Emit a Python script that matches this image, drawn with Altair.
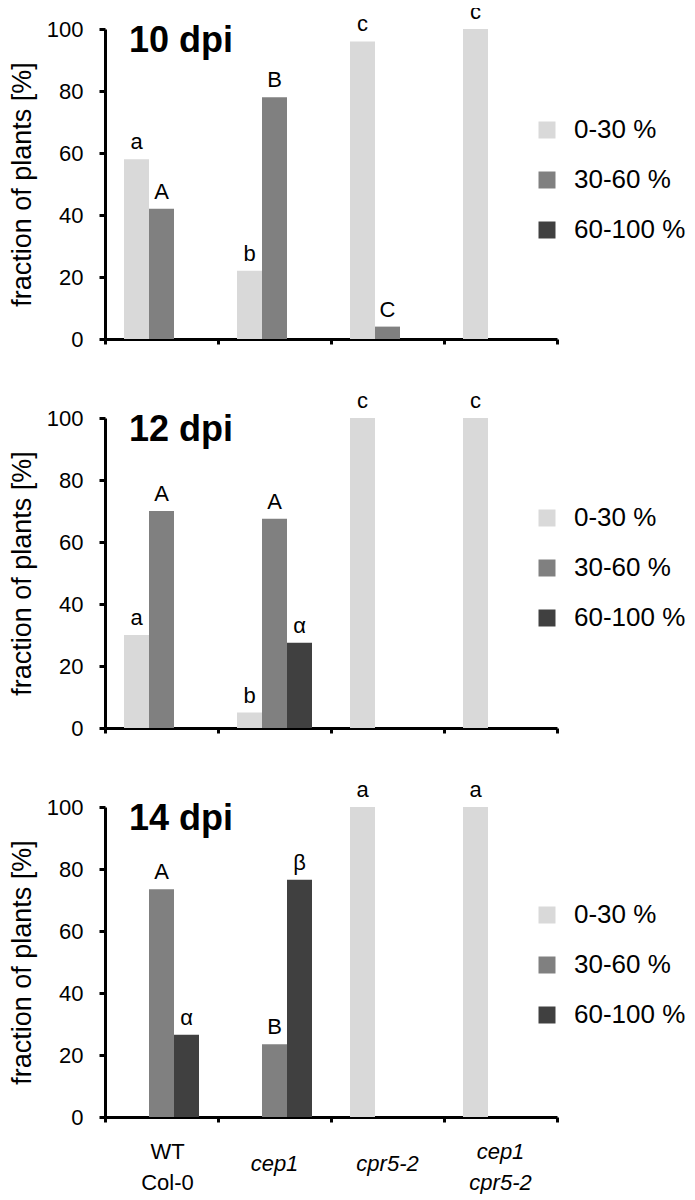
import altair as alt
import pandas as pd

# ---- categories / labels ----
groups = ["WT Col-0", "cep1", "cpr5-2", "cep1 cpr5-2"]
group_labels = ["WT\nCol-0", "cep1", "cpr5-2", "cep1\ncpr5-2"]
group_italic = [False, True, True, True]
group_lines = [2, 1, 1, 2]
series = ["0-30 %", "30-60 %", "60-100 %"]
series_colors = ["#d9d9d9", "#808080", "#404040"]
y_ticks = [0, 20, 40, 60, 80, 100]
panel_names = ["10 dpi", "12 dpi", "14 dpi"]

# ---- values (None = no bar) ----
dpi10_low = [58, 22, 96, 100]
dpi10_mid = [42, 78, 4, None]
dpi10_high = [None, None, None, None]
dpi10_low_letters = ["a", "b", "c", "c"]
dpi10_mid_letters = ["A", "B", "C", ""]
dpi10_high_letters = ["", "", "", ""]

dpi12_low = [30, 5, 100, 100]
dpi12_mid = [70, 67.5, None, None]
dpi12_high = [None, 27.5, None, None]
dpi12_low_letters = ["a", "b", "c", "c"]
dpi12_mid_letters = ["A", "A", "", ""]
dpi12_high_letters = ["", "α", "", ""]

dpi14_low = [None, None, 100, 100]
dpi14_mid = [73.5, 23.5, None, None]
dpi14_high = [26.5, 76.5, None, None]
dpi14_low_letters = ["", "", "a", "a"]
dpi14_mid_letters = ["A", "B", "", ""]
dpi14_high_letters = ["α", "β", "", ""]

FONT = "Liberation Sans"
W, H = 452, 310


def make_panel(name, vals, lets, legend_y, bottom):
    rows = []
    for s, vl, ll in zip(series, vals, lets):
        for g, v, l in zip(groups, vl, ll):
            if v is not None:
                rows.append({"group": g, "series": s, "value": v, "letter": l})
    df = pd.DataFrame(rows)

    x = alt.X(
        "group:N",
        scale=alt.Scale(domain=groups, paddingInner=0, paddingOuter=0),
        axis=alt.Axis(title=None, labels=False, tickBand="extent", domainWidth=3,
                      tickWidth=3, tickSize=5, domainColor="black", tickColor="black"),
    )
    xo = alt.XOffset("series:N", scale=alt.Scale(domain=series, paddingInner=0, paddingOuter=0.76))
    y = alt.Y(
        "value:Q",
        scale=alt.Scale(domain=[0, 100]),
        axis=alt.Axis(values=y_ticks, title="fraction of plants [%]", grid=False,
                      domainWidth=3, tickWidth=3, tickSize=6, labelPadding=16,
                      titlePadding=10, domainColor="black", tickColor="black"),
    )
    bars = alt.Chart(df).mark_bar().encode(
        x=x, xOffset=xo, y=y,
        color=alt.Color(
            "series:N",
            scale=alt.Scale(domain=series, range=series_colors),
            legend=alt.Legend(title=None, orient="none", legendX=429, legendY=legend_y,
                              symbolType="square", symbolSize=289, labelFontSize=26,
                              labelOffset=14, rowPadding=24, padding=0,
                              symbolStrokeWidth=0, labelColor="black"),
        ),
    )
    letters = alt.Chart(df).mark_text(dy=-10, baseline="alphabetic", fontSize=22, color="black").encode(
        x=x, xOffset=xo, y=y, text="letter:N"
    )
    title = alt.Chart(pd.DataFrame({"t": [name]})).mark_text(
        align="left", baseline="alphabetic", fontSize=36, fontWeight="bold", color="black"
    ).encode(x=alt.value(24), y=alt.value(23), text="t:N")
    layers = [bars, letters, title]
    if bottom:
        ldf = pd.DataFrame({"group": groups, "label": group_labels,
                            "italic": group_italic, "lines": group_lines})
        normal2 = alt.Chart(ldf).transform_filter("!datum.italic && datum.lines == 2").mark_text(
            baseline="middle", fontSize=22, lineBreak="\n", lineHeight=31, dx=6, color="black"
        ).encode(x=x, y=alt.value(H + 35), text="label:N")
        ital2 = alt.Chart(ldf).transform_filter("datum.italic && datum.lines == 2").mark_text(
            baseline="middle", fontSize=22, lineBreak="\n", lineHeight=31, fontStyle="italic", color="black"
        ).encode(x=x, y=alt.value(H + 35), text="label:N")
        ital1 = alt.Chart(ldf).transform_filter("datum.italic && datum.lines == 1").mark_text(
            baseline="middle", fontSize=22, fontStyle="italic", color="black"
        ).encode(x=x, y=alt.value(H + 47), text="label:N")
        layers += [normal2, ital2, ital1]
    return alt.layer(*layers).properties(width=W, height=H)


p1 = make_panel(panel_names[0], [dpi10_low, dpi10_mid, dpi10_high],
                [dpi10_low_letters, dpi10_mid_letters, dpi10_high_letters], 88, False)
p2 = make_panel(panel_names[1], [dpi12_low, dpi12_mid, dpi12_high],
                [dpi12_low_letters, dpi12_mid_letters, dpi12_high_letters], 87, False)
p3 = make_panel(panel_names[2], [dpi14_low, dpi14_mid, dpi14_high],
                [dpi14_low_letters, dpi14_mid_letters, dpi14_high_letters], 95, True)

chart = (
    alt.vconcat(p1, p2, p3, spacing=40)
    .resolve_scale(color="independent")
    .resolve_legend(color="independent")
    .properties(padding={"left": 0, "top": -7, "right": 0, "bottom": 0})
    .configure(font=FONT)
    .configure_view(stroke=None)
    .configure_axis(labelFontSize=22, labelColor="black", titleFontSize=27,
                    titleFontWeight="normal", titleColor="black", labelFont=FONT, titleFont=FONT)
    .configure_legend(labelFont=FONT)
)

chart.save("out.html", embed_options={"renderer": "svg", "actions": False})
